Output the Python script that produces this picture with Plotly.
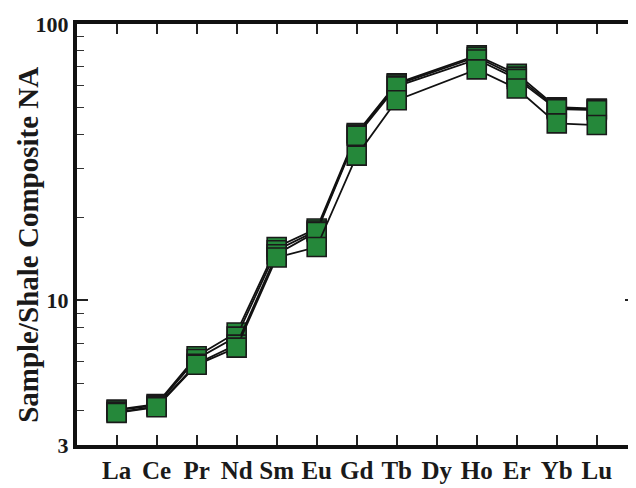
import plotly.graph_objects as go

elements = ["La", "Ce", "Pr", "Nd", "Sm", "Eu", "Gd", "Tb", "Dy", "Ho", "Er", "Yb", "Lu"]

sample_a = [4.03, 4.22, 6.28, 7.66, 15.6, 18.2, 40.3, 61.0, None, 77.0, 66.0, 50.0, 49.4]
sample_b = [4.00, 4.18, 6.14, 7.40, 15.2, 17.9, 39.8, 60.4, None, 76.0, 64.5, 49.6, 49.1]
sample_c = [3.94, 4.14, 5.90, 6.92, 14.7, 17.7, 39.4, 59.5, None, 74.4, 63.3, 49.2, 48.8]
sample_d = [3.92, 4.11, 5.85, 6.75, 14.3, 15.6, 33.4, 53.0, None, 68.5, 58.4, 43.7, 43.1]

major_vals = [3, 10, 100]
major_text = ["3", "10", "100"]
minor_vals = [4, 5, 6, 7, 8, 9, 20, 30, 40, 50, 60, 70, 80, 90]
y_title = "Sample/Shale Composite NA"

fig = go.Figure()
for s in [sample_a, sample_b, sample_c, sample_d]:
    fig.add_trace(go.Scatter(
        x=list(range(len(elements))), y=s, mode="lines+markers",
        connectgaps=True,
        line=dict(color="#111111", width=1.8),
        marker=dict(symbol="square", size=19, color="#25883a",
                    line=dict(color="#1a1a1a", width=1.6)),
        showlegend=False, hoverinfo="skip"))

font_fam = "Liberation Serif"
fig.update_layout(
    width=636, height=480,
    margin=dict(l=69, r=4, t=8, b=33),
    plot_bgcolor="white", paper_bgcolor="white",
    font=dict(family=font_fam, color="#1a1a1a"),
)
fig.update_xaxes(
    range=[-0.99, 12.98],
    tickmode="array", tickvals=list(range(len(elements))), ticktext=elements,
    ticks="inside", ticklen=10, tickwidth=1.5, tickcolor="#222",
    showline=True, linewidth=4, linecolor="#111", mirror="ticks",
    showgrid=False, zeroline=False,
    tickfont=dict(family=font_fam, size=25, color="#1a1a1a", weight="bold"),
)
fig.update_yaxes(
    type="log", range=[0.4771, 2.0],
    tickmode="array", tickvals=major_vals, ticktext=major_text,
    ticks="inside", ticklen=11, tickwidth=1.5, tickcolor="#222",
    ticklabeloverflow="allow",
    minor=dict(tickmode="array", tickvals=minor_vals, ticks="inside",
               ticklen=7, tickwidth=1.2, tickcolor="#333", showgrid=False),
    showline=True, linewidth=4, linecolor="#111", mirror="ticks",
    showgrid=False, zeroline=False,
    tickfont=dict(family=font_fam, size=22, color="#1a1a1a", weight="bold"),
)
fig.add_annotation(
    text=y_title, textangle=-90, xref="paper", yref="paper",
    x=-0.089, y=0.476, xanchor="center", yanchor="middle", showarrow=False,
    font=dict(family=font_fam, size=29, color="#1a1a1a", weight="bold"),
)

fig.write_html("out.html")
